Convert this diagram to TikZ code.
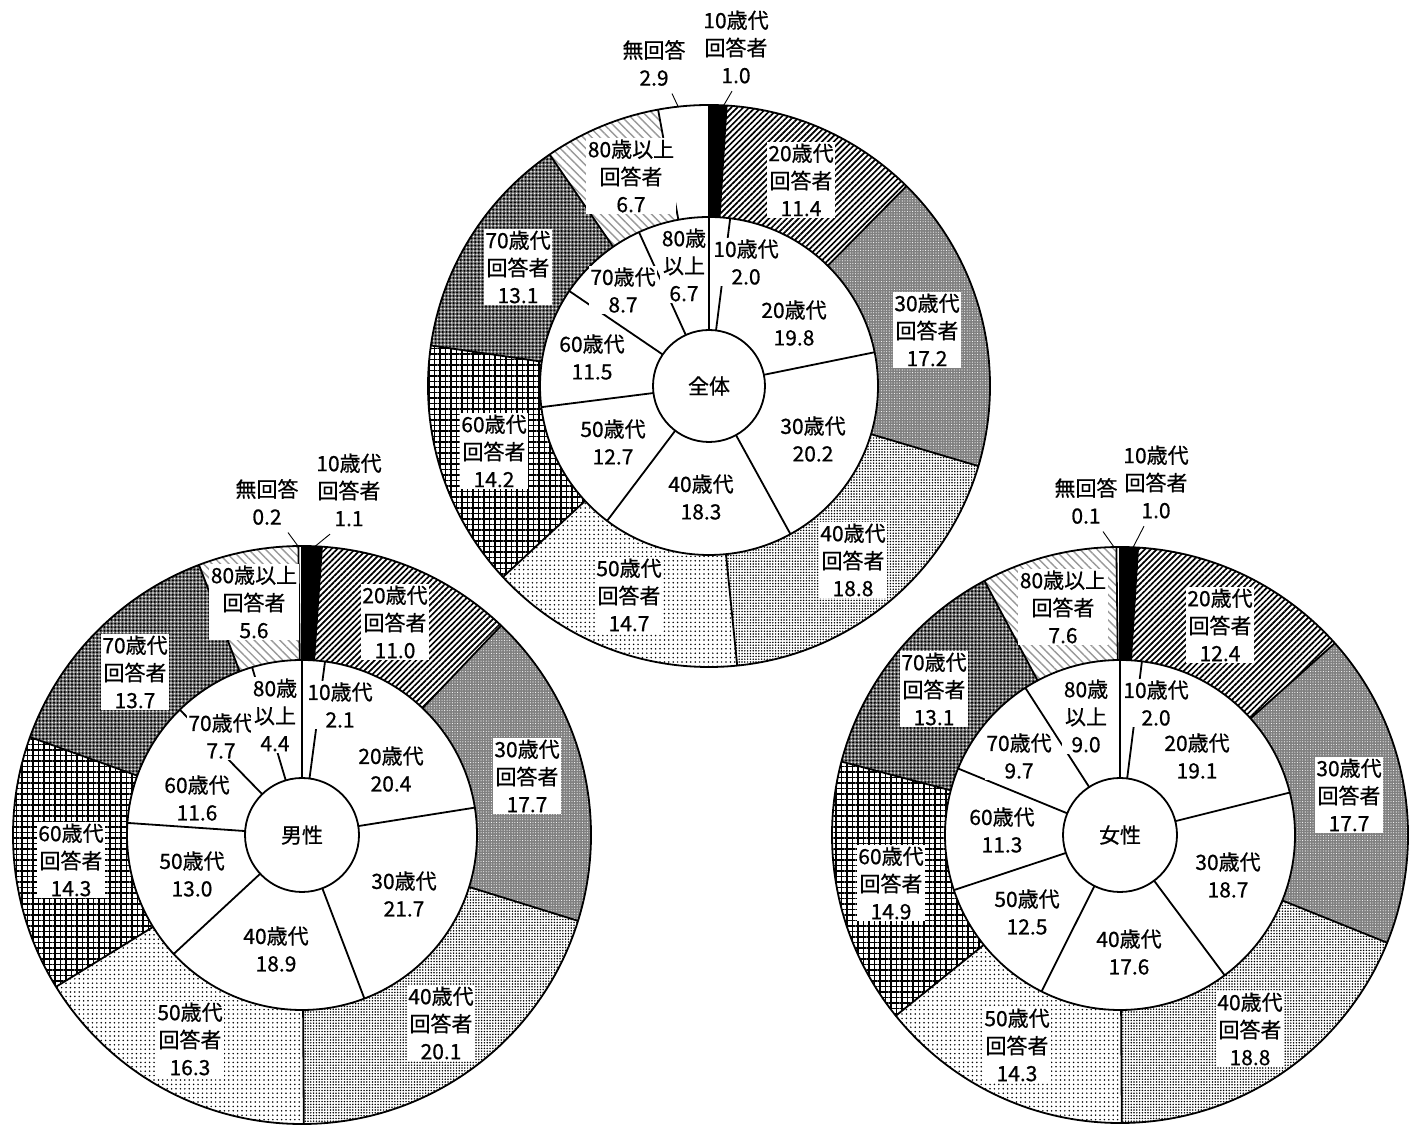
\documentclass[tikz,border=0pt]{standalone}
\usepackage{fontspec}
\setmainfont{Noto Sans CJK JP}[FakeBold=0.7]
\usetikzlibrary{calc,patterns,patterns.meta}
\newcommand\rslice[6]{%
  \path[#6] ($(#1)+({90-3.6*(#2)}:#5)$) arc[start angle={90-3.6*(#2)}, end angle={90-3.6*(#3)}, radius=#5]
   -- ($(#1)+({90-3.6*(#3)}:#4)$) arc[start angle={90-3.6*(#3)}, end angle={90-3.6*(#2)}, radius=#4] -- cycle;}
\newcommand\rline[4]{\draw[outl] ($(#1)+({90-3.6*(#2)}:#3)$) -- ($(#1)+({90-3.6*(#2)}:#4)$);}
\begin{document}
\begin{tikzpicture}[x=1pt,y=1pt,
  outl/.style={line width=1.8pt},
  leader/.style={line width=0.9pt},
  lbl/.style={fill=white, inner sep=1.5pt, align=center, font=\fontsize{21pt}{27.5pt}\selectfont},
  ctr/.style={circle, draw, line width=1.8pt, fill=white, minimum size=#1, inner sep=0pt, font=\fontsize{21pt}{24pt}\selectfont},
  s10/.style={fill=black},
  s20/.style={pattern={Lines[angle=45,distance=4.2pt,line width=1.7pt]}, pattern color=black},
  s30/.style={fill=black!50, postaction={pattern={Dots[distance=2.6pt,radius=0.55pt]}, pattern color=white}},
  s40/.style={pattern={Dots[distance=2.8pt,radius=0.85pt]}, pattern color=black},
  s50/.style={pattern={Dots[distance=4.4pt,radius=0.85pt]}, pattern color=black},
  s60/.style={pattern={Hatch[angle=0,distance=5.5pt,line width=1.05pt]}, pattern color=black},
  s70/.style={fill=black!55,
     postaction={pattern={Dots[distance=3.6pt,radius=1.1pt]}, pattern color=black},
     postaction={pattern={Dots[distance=3.6pt,radius=0.8pt,xshift=1.8pt,yshift=1.8pt]}, pattern color=white}},
  s80/.style={pattern={Lines[angle=-45,distance=6pt,line width=1.4pt]}, pattern color=black!40},
  s0/.style={fill=white}]
\fill[white] (0,0) rectangle (1423,1124);
\useasboundingbox (0,0) rectangle (1423,1124);
\coordinate (T) at (709,1124-386);
\coordinate (L) at (302,1124-835);
\coordinate (R) at (1120,1124-835);
% ---------- top chart (全体) ----------
\rslice{T}{0}{1.0}{169pt}{281pt}{s10}
\rslice{T}{1.0}{12.4}{169pt}{281pt}{s20}
\rslice{T}{12.4}{29.6}{169pt}{281pt}{s30}
\rslice{T}{29.6}{48.4}{169pt}{281pt}{s40}
\rslice{T}{48.4}{63.1}{169pt}{281pt}{s50}
\rslice{T}{63.1}{77.3}{169pt}{281pt}{s60}
\rslice{T}{77.3}{90.4}{169pt}{281pt}{s70}
\rslice{T}{90.4}{97.1}{169pt}{281pt}{s80}
\rslice{T}{97.1}{100}{169pt}{281pt}{s0}
\foreach \p in {0,1.0,12.4,29.6,48.4,63.1,77.3,90.4,97.1} {\rline{T}{\p}{169pt}{281pt}}
\foreach \p in {0,2.0,21.8,42.0,60.3,73.0,84.5,93.2} {\rline{T}{\p}{56pt}{169pt}}
\draw[outl] (T) circle[radius=281pt];
\draw[outl] (T) circle[radius=169pt];
\node[ctr=112pt] (Tc) at (T) {全体};
% ---------- left chart (男性) ----------
\rslice{L}{0}{1.1}{175pt}{289pt}{s10}
\rslice{L}{1.1}{12.1}{175pt}{289pt}{s20}
\rslice{L}{12.1}{29.8}{175pt}{289pt}{s30}
\rslice{L}{29.8}{49.9}{175pt}{289pt}{s40}
\rslice{L}{49.9}{66.2}{175pt}{289pt}{s50}
\rslice{L}{66.2}{80.5}{175pt}{289pt}{s60}
\rslice{L}{80.5}{94.2}{175pt}{289pt}{s70}
\rslice{L}{94.2}{99.8}{175pt}{289pt}{s80}
\rslice{L}{99.8}{100}{175pt}{289pt}{s0}
\foreach \p in {0,1.1,12.1,29.8,49.9,66.2,80.5,94.2,99.8} {\rline{L}{\p}{175pt}{289pt}}
\foreach \p in {0,2.1,22.5,44.2,63.1,76.1,87.7,95.4} {\rline{L}{\p}{57pt}{175pt}}
\draw[outl] (L) circle[radius=289pt];
\draw[outl] (L) circle[radius=175pt];
\node[ctr=114pt] (Lc) at (L) {男性};
% ---------- right chart (女性) ----------
\rslice{R}{0}{1.0}{175pt}{288pt}{s10}
\rslice{R}{1.0}{13.4}{175pt}{288pt}{s20}
\rslice{R}{13.4}{31.1}{175pt}{288pt}{s30}
\rslice{R}{31.1}{49.9}{175pt}{288pt}{s40}
\rslice{R}{49.9}{64.2}{175pt}{288pt}{s50}
\rslice{R}{64.2}{79.1}{175pt}{288pt}{s60}
\rslice{R}{79.1}{92.2}{175pt}{288pt}{s70}
\rslice{R}{92.2}{99.8}{175pt}{288pt}{s80}
\rslice{R}{99.8}{100}{175pt}{288pt}{s0}
\foreach \p in {0,1.0,13.4,31.1,49.9,64.2,79.1,92.2,99.8} {\rline{R}{\p}{175pt}{288pt}}
\foreach \p in {0,2.0,21.1,39.8,57.4,69.9,81.2,90.9} {\rline{R}{\p}{57pt}{175pt}}
\draw[outl] (R) circle[radius=288pt];
\draw[outl] (R) circle[radius=175pt];
\node[ctr=114pt] (Rc) at (R) {女性};
% ---------- labels top ----------
\node[lbl] (tA) at (736,1124-47) {10歳代\\回答者\\1.0};
\node[lbl] (tN) at (654,1124-63) {無回答\\2.9};
\node[lbl] (t2o) at (801,1124-180) {20歳代\\回答者\\11.4};
\node[lbl] (t3o) at (927,1124-330) {30歳代\\回答者\\17.2};
\node[lbl] (t4o) at (853,1124-560) {40歳代\\回答者\\18.8};
\node[lbl] (t5o) at (629,1124-595) {50歳代\\回答者\\14.7};
\node[lbl] (t6o) at (494,1124-451) {60歳代\\回答者\\14.2};
\node[lbl] (t7o) at (518,1124-267) {70歳代\\回答者\\13.1};
\node[lbl] (t8o) at (631,1124-176) {80歳以上\\回答者\\6.7};
\node[lbl] (t1i) at (746,1124-262) {10歳代\\2.0};
\node[lbl] (t2i) at (794,1124-323) {20歳代\\19.8};
\node[lbl] (t3i) at (813,1124-439) {30歳代\\20.2};
\node[lbl] (t4i) at (701,1124-497) {40歳代\\18.3};
\node[lbl] (t5i) at (613,1124-442) {50歳代\\12.7};
\node[lbl] (t6i) at (592,1124-357) {60歳代\\11.5};
\node[lbl] (t7i) at (623,1124-290) {70歳代\\8.7};
\node[lbl] (t8i) at (684,1124-265) {80歳\\以上\\6.7};
% ---------- labels left ----------
\node[lbl] (lA) at (349,1124-490) {10歳代\\回答者\\1.1};
\node[lbl] (lN) at (267,1124-502) {無回答\\0.2};
\node[lbl] (l2o) at (395,1124-622) {20歳代\\回答者\\11.0};
\node[lbl] (l3o) at (527,1124-776) {30歳代\\回答者\\17.7};
\node[lbl] (l4o) at (441,1124-1023) {40歳代\\回答者\\20.1};
\node[lbl] (l5o) at (190,1124-1039) {50歳代\\回答者\\16.3};
\node[lbl] (l6o) at (71,1124-860) {60歳代\\回答者\\14.3};
\node[lbl] (l7o) at (135,1124-672) {70歳代\\回答者\\13.7};
\node[lbl] (l8o) at (254,1124-602) {80歳以上\\回答者\\5.6};
\node[lbl] (l1i) at (340,1124-705) {10歳代\\2.1};
\node[lbl] (l2i) at (391,1124-769) {20歳代\\20.4};
\node[lbl] (l3i) at (404,1124-894) {30歳代\\21.7};
\node[lbl] (l4i) at (276,1124-949) {40歳代\\18.9};
\node[lbl] (l5i) at (192,1124-874) {50歳代\\13.0};
\node[lbl] (l6i) at (197,1124-798) {60歳代\\11.6};
\node[lbl] (l7i) at (221,1124-736) {70歳代\\7.7};
\node[lbl] (l8i) at (275,1124-715) {80歳\\以上\\4.4};
% ---------- labels right ----------
\node[lbl] (rA) at (1156,1124-482) {10歳代\\回答者\\1.0};
\node[lbl] (rN) at (1086,1124-501) {無回答\\0.1};
\node[lbl] (r2o) at (1220,1124-625) {20歳代\\回答者\\12.4};
\node[lbl] (r3o) at (1349,1124-795) {30歳代\\回答者\\17.7};
\node[lbl] (r4o) at (1250,1124-1029) {40歳代\\回答者\\18.8};
\node[lbl] (r5o) at (1017,1124-1045) {50歳代\\回答者\\14.3};
\node[lbl] (r6o) at (891,1124-883) {60歳代\\回答者\\14.9};
\node[lbl] (r7o) at (934,1124-689) {70歳代\\回答者\\13.1};
\node[lbl] (r8o) at (1063,1124-607) {80歳以上\\回答者\\7.6};
\node[lbl] (r1i) at (1156,1124-703) {10歳代\\2.0};
\node[lbl] (r2i) at (1197,1124-756) {20歳代\\19.1};
\node[lbl] (r3i) at (1228,1124-875) {30歳代\\18.7};
\node[lbl] (r4i) at (1129,1124-952) {40歳代\\17.6};
\node[lbl] (r5i) at (1027,1124-912) {50歳代\\12.5};
\node[lbl] (r6i) at (1002,1124-830) {60歳代\\11.3};
\node[lbl] (r7i) at (1019,1124-756) {70歳代\\9.7};
\node[lbl] (r8i) at (1086,1124-716) {80歳\\以上\\9.0};
% ---------- leaders ----------
\coordinate (tAe) at ($(T)+(87:281pt)$);
\coordinate (tNe) at ($(T)+(96.3:281pt)$);
\coordinate (lAe) at ($(L)+(87.4:289pt)$);
\coordinate (lNe) at ($(L)+(90.8:289pt)$);
\coordinate (rAe) at ($(R)+(87.4:288pt)$);
\coordinate (rNe) at ($(R)+(91.2:288pt)$);
\draw[leader] ([xshift=-4pt,yshift=-6pt]tA.south) -- (tAe);
\draw[leader] ([xshift=18pt,yshift=-6pt]tN.south) -- (tNe);
\draw[leader] ([xshift=-19pt,yshift=-6pt]lA.south) -- (lAe);
\draw[leader] ([xshift=21pt,yshift=-6pt]lN.south) -- (lNe);
\draw[leader] ([xshift=-12pt,yshift=-6pt]rA.south) -- (rAe);
\draw[leader] ([xshift=17pt,yshift=-6pt]rN.south) -- (rNe);
\end{tikzpicture}
\end{document}
